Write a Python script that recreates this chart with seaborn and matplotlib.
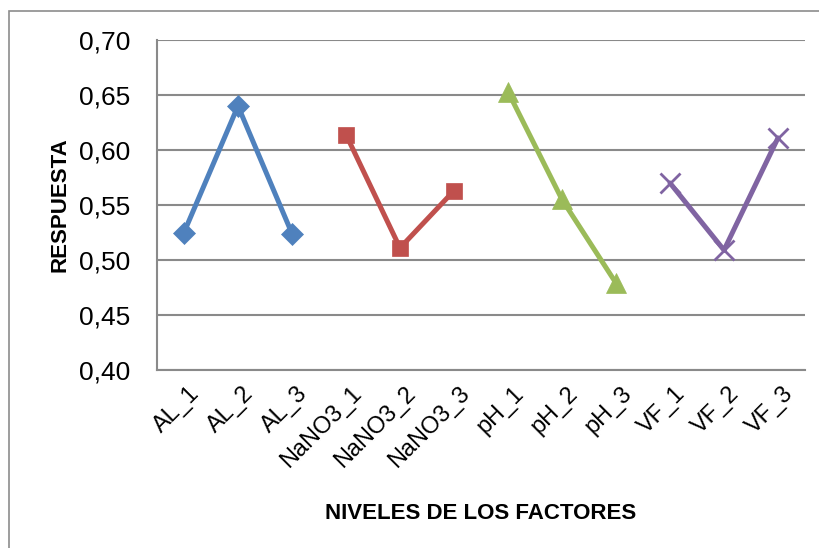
import numpy as np
import pandas as pd
import seaborn as sns
import matplotlib.pyplot as plt
from matplotlib.patches import Rectangle
from matplotlib.ticker import FuncFormatter

# niveles de cada factor
factores = ["AL", "NaNO3", "pH", "VF"]
niveles = ["AL_1", "AL_2", "AL_3", "NaNO3_1", "NaNO3_2", "NaNO3_3",
           "pH_1", "pH_2", "pH_3", "VF_1", "VF_2", "VF_3"]
respuesta_al = [0.525, 0.640, 0.524]
respuesta_nano3 = [0.614, 0.511, 0.563]
respuesta_ph = [0.653, 0.555, 0.479]
respuesta_vf = [0.570, 0.509, 0.611]

colores = ["#4F81BD", "#C0504D", "#9BBB59", "#8064A2"]
marcadores = ["D", "s", "^", "x"]
tamanos = [11, 12, 14, 14]

df = pd.DataFrame({
    "Nivel": niveles,
    "Factor": np.repeat(factores, 3),
    "Respuesta": respuesta_al + respuesta_nano3 + respuesta_ph + respuesta_vf,
})
df["pos"] = df["Nivel"].map({n: i for i, n in enumerate(niveles)})

sns.set_style("white")
plt.rcParams["font.family"] = ["Liberation Sans", "DejaVu Sans"]

fig = plt.figure(figsize=(8.2, 5.48), dpi=100)
ax = fig.add_axes([157 / 820, 1 - 370 / 548, (805 - 157) / 820, 330 / 548])

# marco exterior del grafico
fig.patches.append(Rectangle((9 / 820, -0.1), 1.2, 1 - 11 / 548 + 0.1,
                             transform=fig.transFigure, fill=False,
                             edgecolor="#8c8c8c", linewidth=1.2, zorder=0))

for f, c, m, s in zip(factores, colores, marcadores, tamanos):
    sub = df[df["Factor"] == f]
    sns.lineplot(data=sub, x="pos", y="Respuesta", ax=ax, color=c,
                 linewidth=3.6, marker=m, markersize=s,
                 markeredgecolor=c, markeredgewidth=2 if m == "x" else 0.5,
                 legend=False, zorder=3)

ax.set_xlim(-0.5, len(niveles) - 0.5)
ax.set_ylim(0.40, 0.70)
ax.set_yticks(np.arange(0.40, 0.701, 0.05))
ax.yaxis.set_major_formatter(FuncFormatter(lambda v, p: f"{v:.2f}".replace(".", ",")))
ax.yaxis.grid(True, color="#8a8a8a", linewidth=1.5)
ax.set_axisbelow(True)

ax.set_xticks(np.arange(-0.5, len(niveles), 1))
ax.set_xticklabels([])
ax.set_xticks(np.arange(len(niveles)) + 0.08, minor=True)
ax.set_xticklabels(niveles, minor=True, rotation=45, ha="right",
                   rotation_mode="anchor", fontsize=17)
ax.tick_params(axis="x", which="major", length=7, width=1.5, color="#8a8a8a", direction="out")
ax.tick_params(axis="x", which="minor", length=0, pad=9, labelcolor="black")
ax.tick_params(axis="y", length=7, width=1.5, color="#8a8a8a", direction="out",
               labelsize=19, pad=12, labelcolor="black")

for side in ["top", "right"]:
    ax.spines[side].set_visible(False)
for side in ["left", "bottom"]:
    ax.spines[side].set_color("#8a8a8a")
    ax.spines[side].set_linewidth(1.5)

ax.set_xlabel("NIVELES DE LOS FACTORES", fontsize=16, fontweight="bold", color="black",
              family=["Liberation Sans Narrow", "Liberation Sans"], labelpad=22)
ax.set_ylabel("RESPUESTA", fontsize=16, fontweight="bold", color="black",
              family=["Liberation Sans Narrow", "Liberation Sans"], labelpad=6)

fig.savefig("out.png", dpi=100)
